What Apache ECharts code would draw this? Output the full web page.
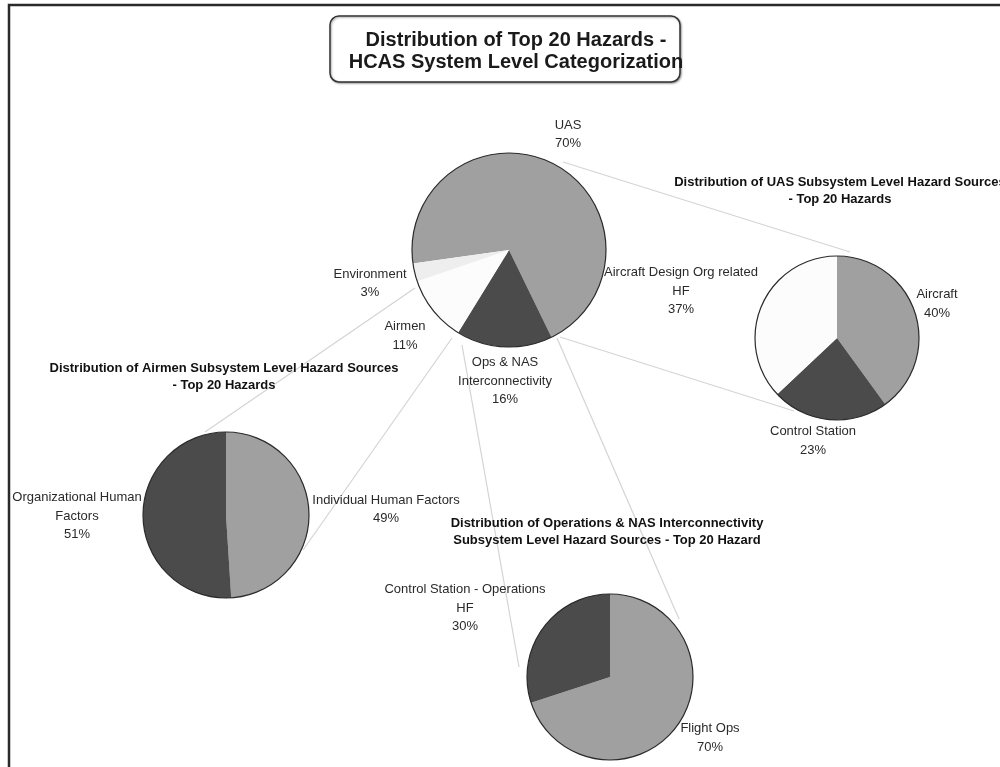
<!DOCTYPE html>
<html>
<head>
<meta charset="utf-8">
<script src="https://cdn.jsdelivr.net/npm/echarts@6/dist/echarts.min.js"></script>
<style>
html,body{margin:0;padding:0;background:#fff;}
#chart{width:1000px;height:767px;}
</style>
</head>
<body>
<div id="chart"></div>
<script>
// ---- Data ----
const mainTitle = 'Distribution of Top 20 Hazards -\nHCAS System Level Categorization';

const systemNames = ['UAS', 'Ops & NAS\nInterconnectivity', 'Airmen', 'Environment'];
const systemValues = [70, 16, 11, 3];

const uasTitle = 'Distribution of UAS Subsystem Level Hazard Sources\n- Top 20 Hazards';
const uasNames = ['Aircraft', 'Control Station', 'Aircraft Design Org related\nHF'];
const uasValues = [40, 23, 37];

const airmenTitle = 'Distribution of Airmen Subsystem Level Hazard Sources\n- Top 20 Hazards';
const airmenNames = ['Individual Human Factors', 'Organizational Human\nFactors'];
const airmenValues = [49, 51];

const opsTitle = 'Distribution of Operations & NAS Interconnectivity\nSubsystem Level Hazard Sources - Top 20 Hazard';
const opsNames = ['Flight Ops', 'Control Station - Operations\nHF'];
const opsValues = [70, 30];

// ---- Layout / style ----
const FONT = '"Liberation Sans", Arial, sans-serif';
const GRAY = '#a0a0a0', DARK = '#4b4b4b', WHITE = '#fcfcfc', PALE = '#eeeeee';

const pies = {
  main:   {center: [509, 250], r: 97, start: 188, colors: [GRAY, DARK, WHITE, PALE],
           labels: [[568,134.5],[505,381],[405,336],[370,283.5]]},
  uas:    {center: [837, 338], r: 82, start: 90, colors: [GRAY, DARK, WHITE],
           labels: [[937,304],[813,441],[681,291]]},
  airmen: {center: [226, 515], r: 83, start: 90, colors: [GRAY, DARK],
           labels: [[386,509.5],[77,516]]},
  ops:    {center: [610, 677], r: 83, start: 90, colors: [GRAY, DARK],
           labels: [[710,738],[465,608]]}
};

function pieSeries(key, names, values) {
  const p = pies[key];
  return {
    type: 'pie',
    name: key,
    center: p.center,
    radius: p.r,
    startAngle: p.start,
    clockwise: true,
    avoidLabelOverlap: false,
    silent: true,
    z: 5,
    itemStyle: {borderWidth: 0},
    label: {
      show: true,
      position: 'outside',
      formatter: (d) => d.name + '\n' + d.value + '%',
      fontFamily: FONT,
      fontSize: 13,
      lineHeight: 18.5,
      color: '#2a2a2a',
      align: 'center'
    },
    labelLine: {show: false},
    labelLayout: (params) => {
      const pos = p.labels[params.dataIndex];
      return {x: pos[0], y: pos[1], align: 'center', verticalAlign: 'middle'};
    },
    data: names.map((n, i) => ({name: n, value: values[i], itemStyle: {color: p.colors[i]}}))
  };
}

const connectorColor = '#d4d4d4';
const connectors = [
  [[563, 162], [850, 252]],
  [[560, 337], [794, 411]],
  [[415, 288], [205, 432]],
  [[452, 338], [303, 550]],
  [[462, 345], [519, 667]],
  [[557, 338], [679, 619]]
];

const graphics = [];
// frame
graphics.push({type: 'polyline', z: 1, shape: {points: [[9, 767], [9, 5], [1000, 5]]},
  style: {stroke: '#2a2a2a', lineWidth: 2.5, fill: null}});
// connectors
connectors.forEach(c => graphics.push({type: 'line', z: 1,
  shape: {x1: c[0][0], y1: c[0][1], x2: c[1][0], y2: c[1][1]},
  style: {stroke: connectorColor, lineWidth: 1.2}}));
// pie outlines
Object.keys(pies).forEach(k => {
  const p = pies[k];
  graphics.push({type: 'circle', z: 100, silent: true,
    shape: {cx: p.center[0], cy: p.center[1], r: p.r},
    style: {fill: null, stroke: '#2b2b2b', lineWidth: 1.2}});
});
// main title box
graphics.push({type: 'rect', z: 2, shape: {x: 330, y: 16, width: 350, height: 66, r: 9},
  style: {fill: '#fff', stroke: '#333', lineWidth: 1.5,
          shadowBlur: 2, shadowOffsetX: 1, shadowOffsetY: 1, shadowColor: 'rgba(0,0,0,0.35)'}});
graphics.push({type: 'text', z: 3, x: 516, y: 51,
  style: {text: mainTitle, font: 'bold 20px ' + FONT, fill: '#1a1a1a',
          align: 'center', verticalAlign: 'middle', lineHeight: 22}});
// sub titles
[[uasTitle, 840, 191], [airmenTitle, 224, 376.5], [opsTitle, 607, 531.5]].forEach(t => {
  graphics.push({type: 'text', z: 3, x: t[1], y: t[2],
    style: {text: t[0], font: 'bold 13px ' + FONT, fill: '#111',
            align: 'center', verticalAlign: 'middle', lineHeight: 17}});
});

const chart = echarts.init(document.getElementById('chart'), null, {renderer: 'canvas'});
chart.setOption({
  backgroundColor: '#fff',
  animation: false,
  series: [
    pieSeries('main', systemNames, systemValues),
    pieSeries('uas', uasNames, uasValues),
    pieSeries('airmen', airmenNames, airmenValues),
    pieSeries('ops', opsNames, opsValues)
  ],
  graphic: {elements: graphics}
});
</script>
</body>
</html>
